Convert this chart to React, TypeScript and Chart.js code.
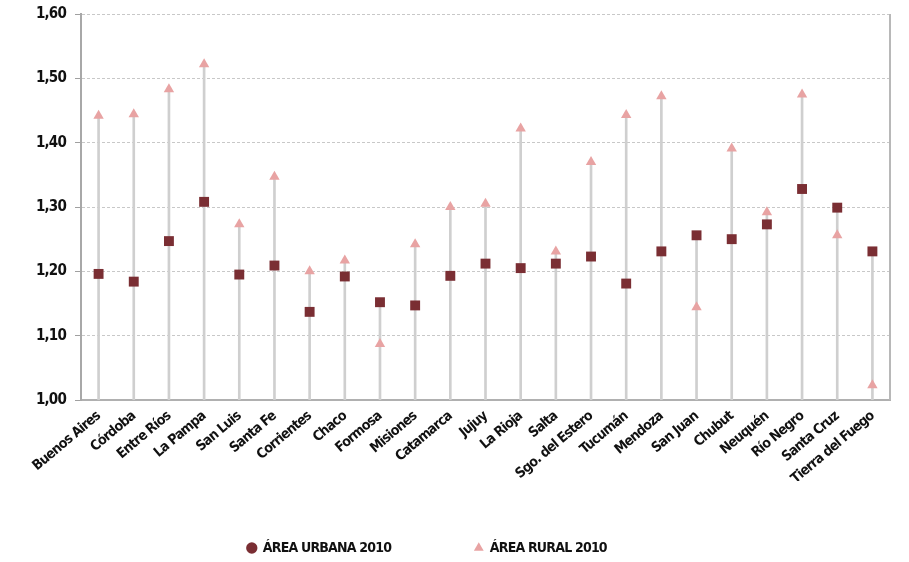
import React, { useEffect, useRef } from "react";
import { Chart, registerables } from "chart.js";

Chart.register(...registerables);

const categories = [
  "Buenos Aires", "Córdoba", "Entre Ríos", "La Pampa", "San Luis", "Santa Fe",
  "Corrientes", "Chaco", "Formosa", "Misiones", "Catamarca", "Jujuy", "La Rioja",
  "Salta", "Sgo. del Estero", "Tucumán", "Mendoza", "San Juan", "Chubut",
  "Neuquén", "Río Negro", "Santa Cruz", "Tierra del Fuego",
];

const urbana2010 = [
  1.196, 1.184, 1.247, 1.308, 1.195, 1.209, 1.137, 1.192, 1.152, 1.147, 1.193,
  1.212, 1.205, 1.212, 1.223, 1.181, 1.231, 1.256, 1.25, 1.273, 1.328, 1.299, 1.231,
];

const rural2010 = [
  1.442, 1.444, 1.483, 1.522, 1.273, 1.347, 1.2, 1.217, 1.087, 1.242, 1.3,
  1.305, 1.422, 1.231, 1.37, 1.443, 1.472, 1.144, 1.391, 1.292, 1.475, 1.256, 1.023,
];

const yTicks = [1.0, 1.1, 1.2, 1.3, 1.4, 1.5, 1.6];

const seriesNames = ["ÁREA URBANA 2010", "ÁREA RURAL 2010"];

const FONT = "'DejaVu Sans Condensed', 'Liberation Sans Narrow', sans-serif";
const SPACING = "-0.8px";

export default function App() {
  const ref = useRef<HTMLCanvasElement | null>(null);

  useEffect(() => {
    if (!ref.current) return;
    const stems = categories.map((_, i) => Math.max(urbana2010[i], rural2010[i]));

    const tighten = {
      id: "tighten",
      beforeUpdate(chart: any) {
        chart.ctx.letterSpacing = SPACING;
      },
      beforeLayout(chart: any) {
        chart.ctx.letterSpacing = SPACING;
      },
      beforeDraw(chart: any) {
        chart.ctx.letterSpacing = SPACING;
      },
    };

    const rightBorder = {
      id: "rightBorder",
      afterDraw(chart: any) {
        const { ctx, chartArea } = chart;
        ctx.save();
        ctx.strokeStyle = "#b8b8b8";
        ctx.lineWidth = 2;
        ctx.beginPath();
        ctx.moveTo(chartArea.right, chartArea.top);
        ctx.lineTo(chartArea.right, chartArea.bottom);
        ctx.stroke();
        ctx.restore();
      },
    };

    const chart = new Chart(ref.current, {
      type: "bar",
      data: {
        labels: categories,
        datasets: [
          {
            type: "line",
            label: seriesNames[0],
            data: urbana2010,
            showLine: false,
            pointStyle: "rect",
            pointRadius: 7,
            pointHoverRadius: 7,
            pointBackgroundColor: "#7a2e33",
            pointBorderColor: "#7a2e33",
            pointBorderWidth: 0,
            backgroundColor: "#7a2e33",
            borderColor: "#7a2e33",
            order: 1,
          } as any,
          {
            type: "line",
            label: seriesNames[1],
            data: rural2010,
            showLine: false,
            pointStyle: "triangle",
            pointRadius: 6,
            pointHoverRadius: 6,
            pointBackgroundColor: "#e8a3a3",
            pointBorderColor: "#e8a3a3",
            pointBorderWidth: 0,
            backgroundColor: "#e8a3a3",
            borderColor: "#e8a3a3",
            order: 2,
          } as any,
          {
            type: "bar",
            label: "stems",
            data: stems,
            backgroundColor: "#cfcfcf",
            borderWidth: 0,
            barThickness: 2,
            order: 3,
          },
        ],
      },
      options: {
        animation: false,
        responsive: true,
        maintainAspectRatio: false,
        layout: { padding: { top: 14, right: 19, left: 0, bottom: -3 } },
        plugins: {
          tooltip: { enabled: false },
          legend: {
            position: "bottom",
            labels: {
              usePointStyle: true,
              boxWidth: 8,
              boxHeight: 8,
              padding: 60,
              color: "#111",
              font: { family: FONT, size: 14, weight: "bold" },
              filter: (item: any) => item.text !== "stems",
              generateLabels: (chart: any) => {
                const items = Chart.defaults.plugins.legend.labels.generateLabels(chart);
                return items.map((it: any) => {
                  if (it.datasetIndex === 0) {
                    it.pointStyle = "circle";
                    it.text = it.text + "\u2003\u2003";
                  }
                  if (it.datasetIndex === 1) {
                    it.pointStyle = "triangle";
                    it.text = it.text + "\u2003\u2003\u2003";
                  }
                  it.lineWidth = 0;
                  return it;
                });
              },
            },
          },
        },
        scales: {
          x: {
            offset: true,
            grid: { display: false, drawTicks: false },
            border: { display: true, color: "#b0b0b0", width: 2 },
            afterFit: (axis: any) => {
              axis.height = 81;
            },
            ticks: {
              minRotation: 40,
              maxRotation: 40,
              padding: 8,
              color: "#111",
              font: { family: FONT, size: 14, weight: "bold" },
              autoSkip: false,
            },
          },
          y: {
            min: 1.0,
            max: 1.6,
            afterBuildTicks: (axis: any) => {
              axis.ticks = yTicks.map((v) => ({ value: v }));
            },
            afterFit: (axis: any) => {
              axis.width = 81;
              axis.paddingTop = 0;
            },
            grid: {
              color: "#c8c8c8",
              tickColor: "#a0a0a0",
              tickLength: 6,
              tickBorderDash: [],
            } as any,
            border: { display: true, color: "#a8a8a8", width: 2, dash: [3, 2] } as any,
            ticks: {
              color: "#111",
              padding: 9,
              font: { family: FONT, size: 15, weight: "bold" },
              callback: (v: any) => Number(v).toFixed(2).replace(".", ","),
            },
          },
        },
      },
      plugins: [tighten, rightBorder],
    });
    return () => chart.destroy();
  }, []);

  return (
    <div style={{ position: "absolute", left: 0, top: 0, width: 909, height: 562, background: "#fff" }}>
      <canvas ref={ref} />
    </div>
  );
}
